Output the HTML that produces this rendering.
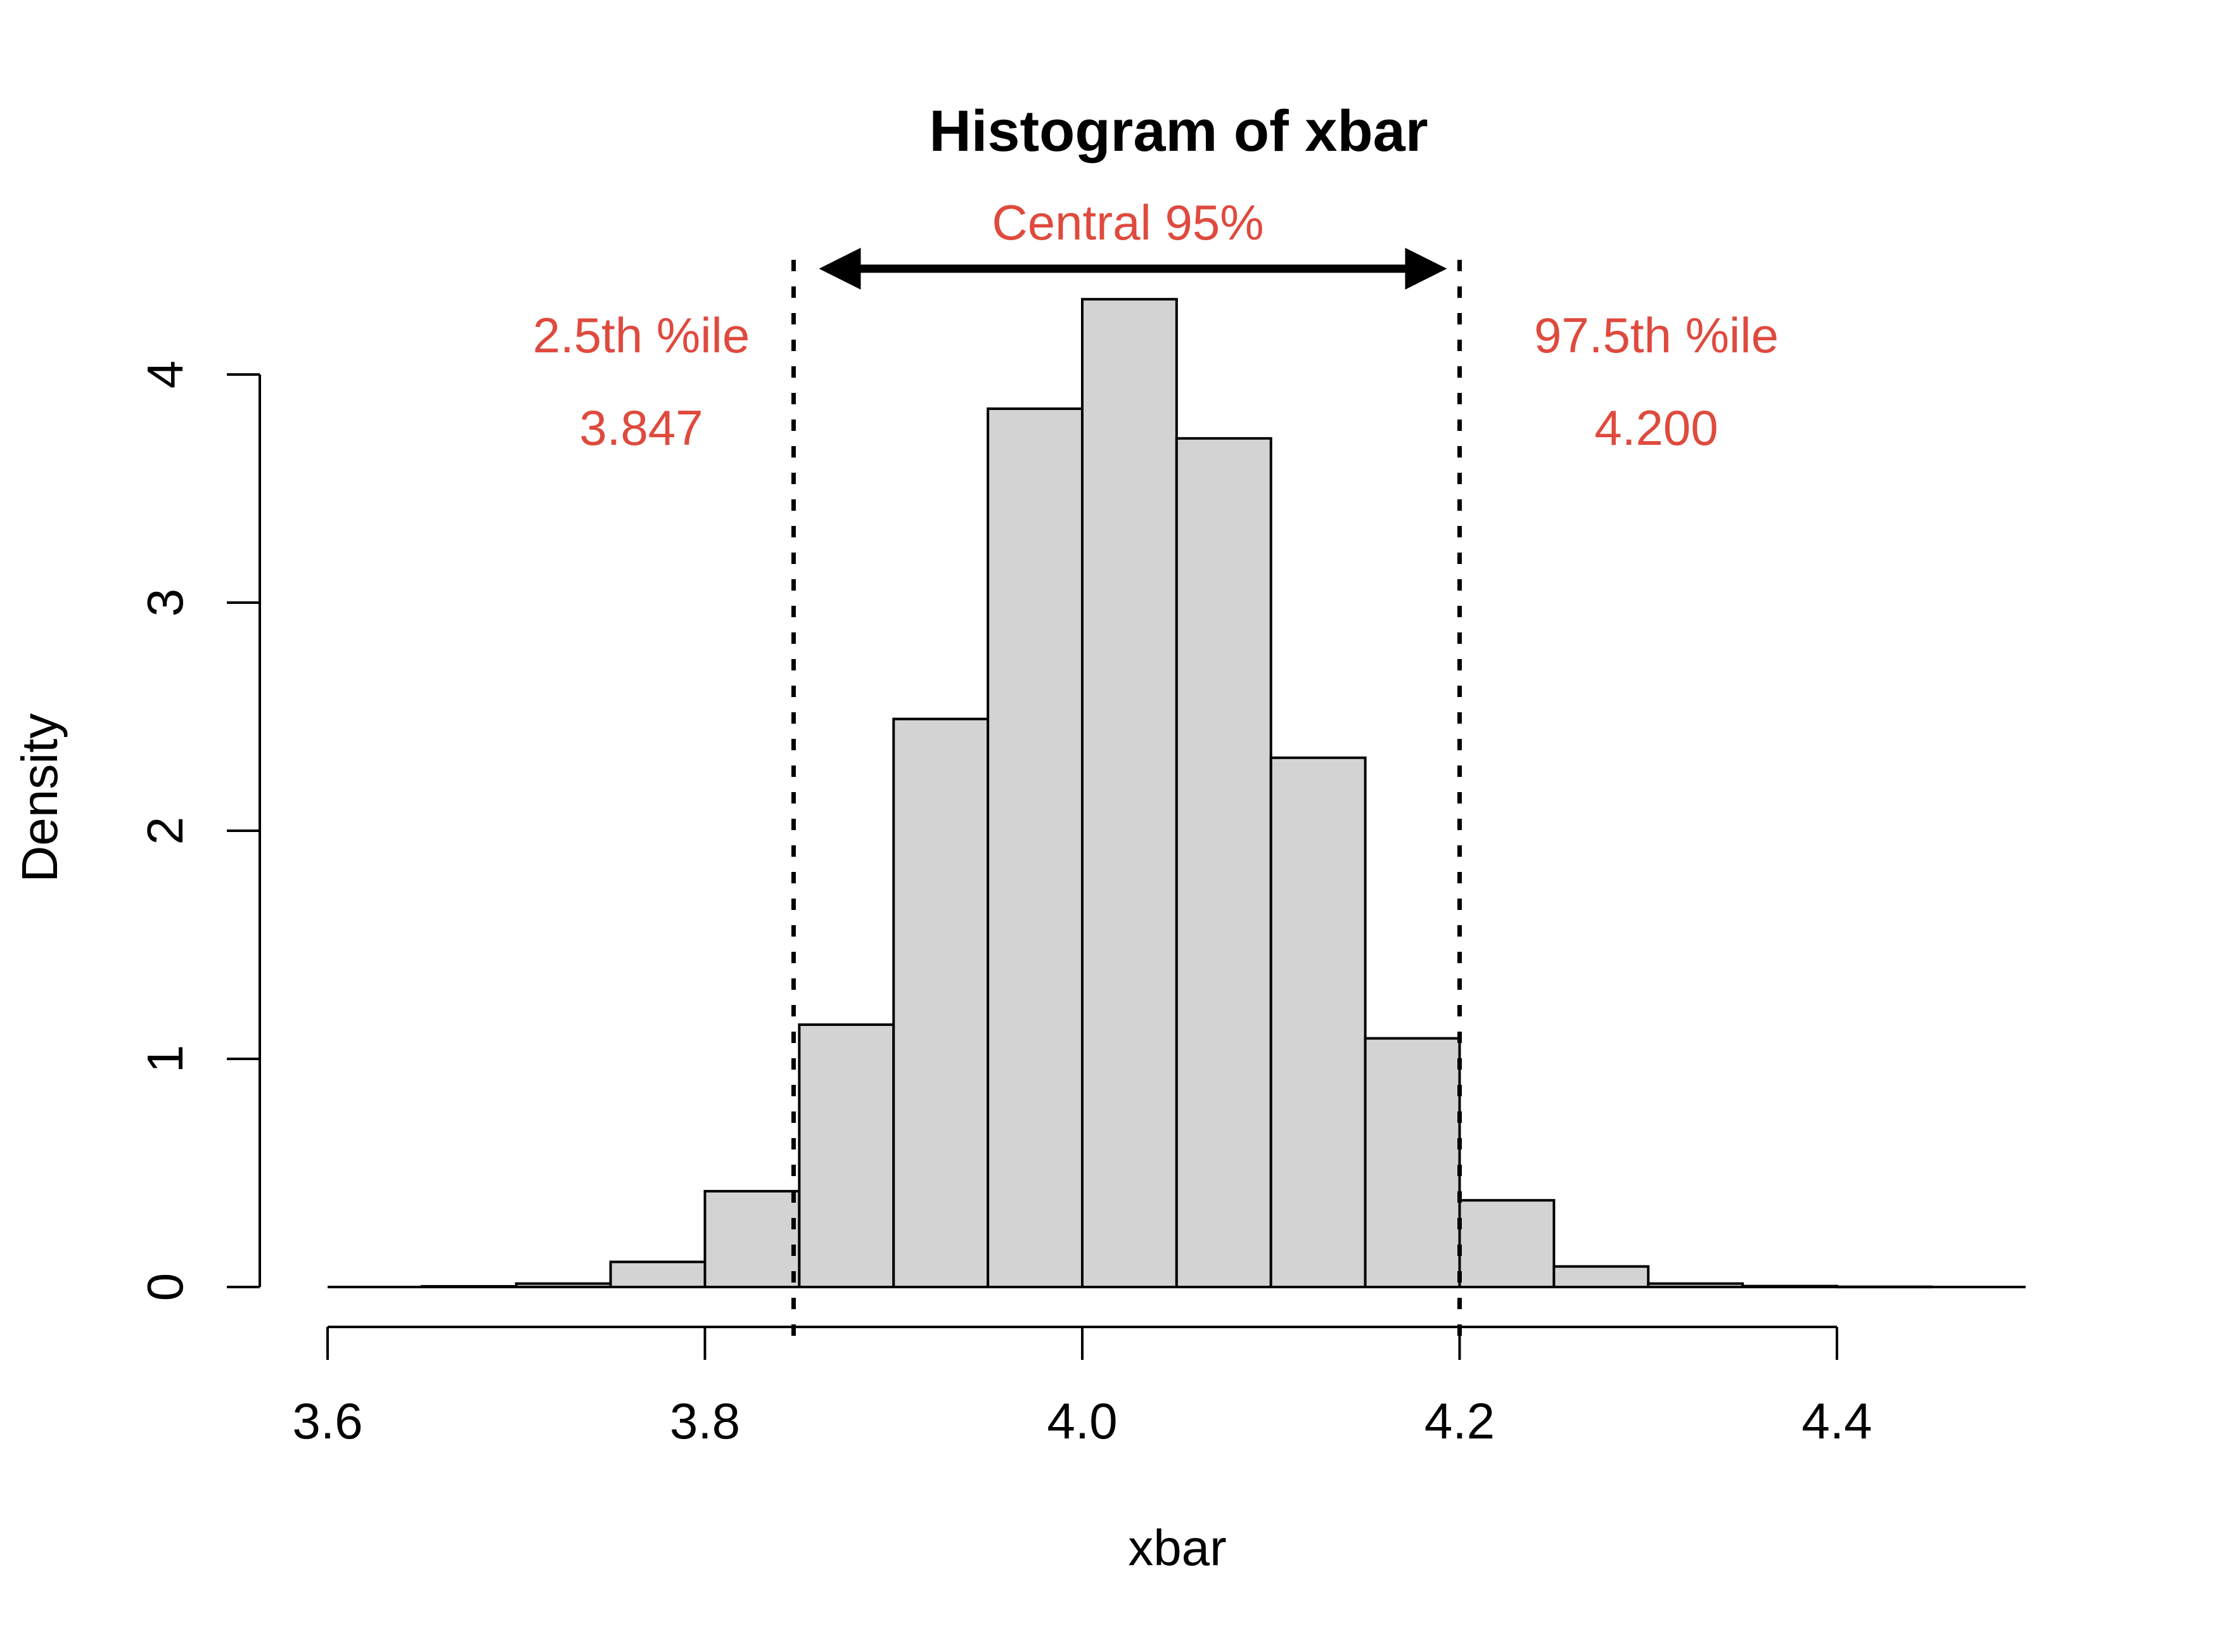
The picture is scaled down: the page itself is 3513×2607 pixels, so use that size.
<!DOCTYPE html>
<html><head><meta charset="utf-8"><style>
html,body{margin:0;padding:0;background:#fff}
svg text{font-family:"Liberation Sans",Arial,sans-serif}
</style></head><body>
<svg id="chart" width="3513" height="2602" viewBox="0 0 3513 2602" xmlns="http://www.w3.org/2000/svg">
<rect width="3513" height="2602" fill="#fff"/>
<g id="bars"></g>
<g id="axes"></g>
<g id="annot"></g>
<text x="1860" y="238" font-size="92" font-weight="bold" text-anchor="middle">Histogram of xbar</text>
<text x="1858" y="2470" font-size="80" text-anchor="middle">xbar</text>
<text transform="translate(90,1259) rotate(-90)" font-size="80" text-anchor="middle">Density</text>
</svg>
<script>
const binStarts = [3.60,3.65,3.70,3.75,3.80,3.85,3.90,3.95,4.00,4.05,4.10,4.15,4.20,4.25,4.30,4.35,4.40,4.45];
const densities = [0,0.003,0.015,0.11,0.42,1.15,2.49,3.85,4.33,3.72,2.32,1.09,0.38,0.09,0.015,0.004,0.001,0];
const binWidth = 0.05;
const xTicks = [3.6,3.8,4.0,4.2,4.4];
const xTickLabels = ["3.6","3.8","4.0","4.2","4.4"];
const yTicks = [0,1,2,3,4];
const yTickLabels = ["0","1","2","3","4"];
const quantiles = [3.847,4.200];
const quantileLabels = ["2.5th %ile","97.5th %ile"];
const quantileValues = ["3.847","4.200"];

const NS="http://www.w3.org/2000/svg";
const xs = v => 517 + (v-3.6)*2977.5;
const ys = v => 2031 - v*360;
function mk(tag, attrs, parent){const e=document.createElementNS(NS,tag);for(const k in attrs)e.setAttribute(k,attrs[k]);parent.appendChild(e);return e;}
const bars=document.getElementById('bars'), axes=document.getElementById('axes'), annot=document.getElementById('annot');
const bl=mk('line',{x1:xs(binStarts[0]),x2:xs(binStarts[binStarts.length-1]+binWidth),y1:ys(0),y2:ys(0),stroke:'#000','stroke-width':4},bars);


binStarts.forEach((b,i)=>{
  if(densities[i]<=0) return;
  const x0=xs(b), x1=xs(b+binWidth), y=ys(densities[i]);
  const r=mk('rect',{x:x0,y:y,width:x1-x0,height:Math.max(ys(0)-y,0.5),fill:'#d3d3d3',stroke:'#000','stroke-width':4},bars);
  
  
});
let l=mk('line',{x1:xs(xTicks[0]),x2:xs(xTicks[xTicks.length-1]),y1:2094,y2:2094,stroke:'#000','stroke-width':4},axes);


xTicks.forEach((t,i)=>{
  const tk=mk('line',{x1:xs(t),x2:xs(t),y1:2094,y2:2146,stroke:'#000','stroke-width':4},axes);
  
  
  const tx=mk('text',{x:xs(t),y:2270,'font-size':80,'text-anchor':'middle'},axes);
  tx.textContent=xTickLabels[i];
  
  
});
l=mk('line',{x1:410,x2:410,y1:ys(yTicks[0]),y2:ys(yTicks[yTicks.length-1]),stroke:'#000','stroke-width':4},axes);


yTicks.forEach((t,i)=>{
  const tk=mk('line',{x1:358,x2:410,y1:ys(t),y2:ys(t),stroke:'#000','stroke-width':4},axes);
  
  
  const tx=mk('text',{x:0,y:0,'font-size':80,'text-anchor':'middle',transform:`translate(288,${ys(t)}) rotate(-90)`},axes);
  tx.textContent=yTickLabels[i];
  
  
});
const red='#df4a3e';
quantiles.forEach((q,i)=>{
  const ln=mk('line',{x1:xs(q),x2:xs(q),y1:410,y2:2110,stroke:'#000','stroke-width':7,'stroke-dasharray':'18 24'},annot);
  
  
  const cx = i===0 ? 1012 : 2614;
  const t1=mk('text',{x:cx,y:556,'font-size':78,'text-anchor':'middle',fill:red},annot);
  t1.textContent=quantileLabels[i];
  
  
  const t2=mk('text',{x:cx,y:702,'font-size':78,'text-anchor':'middle',fill:red},annot);
  t2.textContent=quantileValues[i];
  
  
});
const ax0=xs(quantiles[0])+40, ax1=xs(quantiles[1])-20, ay=424;
const sh=mk('line',{x1:ax0+60,x2:ax1-60,y1:ay,y2:ay,stroke:'#000','stroke-width':13},annot);


const h1=mk('polygon',{points:`${ax0},${ay} ${ax0+66},${ay-33} ${ax0+66},${ay+33}`,fill:'#000'},annot);


const h2=mk('polygon',{points:`${ax1},${ay} ${ax1-66},${ay-33} ${ax1-66},${ay+33}`,fill:'#000'},annot);


const ct=mk('text',{x:1780,y:378,'font-size':78,'text-anchor':'middle',fill:red},annot);
ct.textContent='Central 95%';


</script>
</body></html>
